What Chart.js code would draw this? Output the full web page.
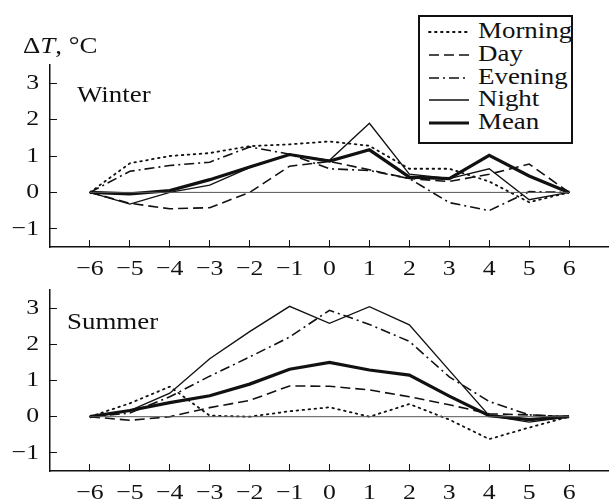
<!DOCTYPE html>
<html>
<head>
<meta charset="utf-8">
<script src="https://cdn.jsdelivr.net/npm/chart.js@4.4.0/dist/chart.umd.min.js"></script>
<style>
  body { margin: 0; background: #fff; width: 609px; height: 504px; position: relative; overflow: hidden;
         font-family: "Liberation Serif", "Times New Roman", serif; color: #111; }
  canvas { position: absolute; left: 0; }
  #winter-chart { top: 0; }
  #summer-chart { top: 280px; }
  /* the source figure's lettering is a bit wider than Times, so stretch it a little */
  .lbl { position: absolute; font-size: 23px; line-height: 23px; white-space: nowrap;
         transform: scaleX(1.17); transform-origin: 0 0; }
  #legend { position: absolute; left: 418px; top: 15px; width: 151px; height: 125px;
            border: 2px solid #111; background: #fff; }
  #legend .row { position: absolute; left: 8px; height: 22px; font-size: 23px; line-height: 22px; }
  #legend svg { position: absolute; left: 0; top: 7px; }
  #legend span { position: absolute; left: 50px; top: 0; white-space: nowrap;
                 transform: scaleX(1.17); transform-origin: 0 0; }
</style>
</head>
<body>
<canvas id="winter-chart" width="609" height="280"></canvas>
<canvas id="summer-chart" width="609" height="224"></canvas>
<div class="lbl" style="left:23px; top:34px;">&Delta;<i>T</i>, &deg;C</div>
<div class="lbl" style="left:77px; top:83px;">Winter</div>
<div class="lbl" style="left:67px; top:310px;">Summer</div>
<div id="legend"></div>

<script>
// --- Data ---
const hours = [-6, -5, -4, -3, -2, -1, 0, 1, 2, 3, 4, 5, 6];
const xTicks = [-6, -5, -4, -3, -2, -1, 0, 1, 2, 3, 4, 5, 6];
const yTicks = [-1, 0, 1, 2, 3];
const seriesNames = ["Morning", "Day", "Evening", "Night", "Mean"];

// Winter
const morningWinter = [0, 0.8, 1.0, 1.08, 1.27, 1.32, 1.4, 1.28, 0.65, 0.65, 0.3, -0.27, 0];
const dayWinter     = [0, -0.3, -0.45, -0.42, 0.0, 0.72, 0.85, 0.62, 0.38, 0.3, 0.5, 0.78, 0];
const eveningWinter = [0, 0.58, 0.74, 0.83, 1.25, 1.05, 0.65, 0.6, 0.38, -0.28, -0.5, 0.02, 0];
const nightWinter   = [0, -0.32, 0.0, 0.2, 0.68, 1.04, 0.88, 1.9, 0.5, 0.38, 0.65, -0.2, 0];
const meanWinter    = [0, -0.04, 0.05, 0.35, 0.7, 1.04, 0.86, 1.17, 0.42, 0.38, 1.02, 0.45, 0];

// Summer
const morningSummer = [0, 0.37, 0.83, 0.03, 0.0, 0.15, 0.26, 0.0, 0.35, -0.08, -0.62, -0.3, 0];
const daySummer     = [0, -0.1, 0.0, 0.25, 0.45, 0.85, 0.84, 0.74, 0.55, 0.33, 0.08, 0.05, 0];
const eveningSummer = [0, 0.1, 0.55, 1.12, 1.65, 2.2, 2.94, 2.55, 2.08, 1.1, 0.42, 0.05, 0];
const nightSummer   = [0, 0.17, 0.65, 1.6, 2.35, 3.05, 2.58, 3.04, 2.54, 1.28, 0.03, -0.15, 0];
const meanSummer    = [0, 0.17, 0.39, 0.58, 0.9, 1.31, 1.5, 1.29, 1.15, 0.57, 0.03, -0.08, 0];

// zero reference line
const zeroLineX = [-6, 6];
const zeroLineY = [0, 0];

// --- Styles ---
const INK = "#111";
const FONT = '"Liberation Serif", "Times New Roman", serif';
const TEXT_STRETCH = 1.17;
const styles = {
  Morning: { borderWidth: 1.8, borderDash: [1.6, 4.4], borderCapStyle: "round" },
  Day:     { borderWidth: 1.6, borderDash: [10, 5] },
  Evening: { borderWidth: 1.6, borderDash: [10, 4, 2, 4] },
  Night:   { borderWidth: 1.4, borderDash: [] },
  Mean:    { borderWidth: 3.2, borderDash: [] },
};

function minus(v) {
  return v < 0 ? "\u2212" + Math.abs(v) : String(v);
}

function toPoints(xs, ys) {
  return xs.map((x, i) => ({ x: x, y: ys[i] }));
}

function drawStretched(ctx, text, x, y) {
  ctx.save();
  ctx.translate(x, y);
  ctx.scale(TEXT_STRETCH, 1);
  ctx.fillText(text, 0, 0);
  ctx.restore();
}

// tick labels drawn from the scales' own ticks, slightly widened like the source
const stretchedTicks = {
  id: "stretchedTicks",
  afterDraw(chart) {
    const ctx = chart.ctx;
    const xs = chart.scales.x;
    const ys = chart.scales.y;
    ctx.save();
    ctx.fillStyle = INK;
    ctx.font = "22px " + FONT;
    ctx.textBaseline = "middle";
    ctx.textAlign = "center";
    xs.ticks.forEach((t) => drawStretched(ctx, minus(t.value), xs.getPixelForValue(t.value), xs.top + 22));
    ctx.textAlign = "right";
    ys.ticks.forEach((t) => drawStretched(ctx, minus(t.value), ys.right - 11, ys.getPixelForValue(t.value)));
    ctx.restore();
  },
};

function makePanel(canvasId, values, padTop) {
  const datasets = [{
    label: "zero",
    data: toPoints(zeroLineX, zeroLineY),
    borderColor: "#555",
    borderWidth: 1,
  }];
  seriesNames.forEach((name, i) => {
    datasets.push(Object.assign({
      label: name,
      data: toPoints(hours, values[i]),
      borderColor: INK,
      fill: false,
    }, styles[name]));
  });

  const ctx = document.getElementById(canvasId).getContext("2d");
  return new Chart(ctx, {
    type: "line",
    data: { datasets },
    plugins: [stretchedTicks],
    options: {
      responsive: false,
      animation: false,
      layout: { padding: { top: padTop, right: 0, bottom: 0, left: 0 } },
      elements: { point: { radius: 0 }, line: { tension: 0 } },
      plugins: { legend: { display: false }, tooltip: { enabled: false } },
      scales: {
        x: {
          type: "linear", min: -7, max: 7,
          afterBuildTicks: (s) => { s.ticks = xTicks.map((v) => ({ value: v })); },
          afterFit: (s) => { s.height = 33; },
          grid: { drawOnChartArea: false, drawTicks: true, tickLength: -7, color: INK, lineWidth: 1 },
          border: { display: true, color: INK, width: 1.5 },
          ticks: { display: false },
        },
        y: {
          min: -1.5, max: 3.5,
          afterBuildTicks: (s) => { s.ticks = yTicks.map((v) => ({ value: v })); },
          afterFit: (s) => { s.width = 50; },
          grid: { drawOnChartArea: false, drawTicks: true, tickLength: -7, color: INK, lineWidth: 1 },
          border: { display: true, color: INK, width: 1.5 },
          ticks: { display: false },
        },
      },
    },
  });
}

function buildLegend() {
  const legendEl = document.getElementById("legend");
  seriesNames.forEach((name, i) => {
    const st = styles[name];
    const row = document.createElement("div");
    row.className = "row";
    row.style.top = (3 + i * 22.75) + "px";
    const dash = st.borderDash.length ? st.borderDash.join(" ") : "none";
    row.innerHTML =
      '<svg width="42" height="10"><line x1="1" y1="5" x2="41" y2="5" stroke="' + INK +
      '" stroke-width="' + st.borderWidth + '" stroke-dasharray="' + dash + '"' +
      (st.borderCapStyle ? ' stroke-linecap="round"' : "") + '/></svg><span>' + name + "</span>";
    legendEl.appendChild(row);
  });
}

function draw() {
  makePanel("winter-chart", [morningWinter, dayWinter, eveningWinter, nightWinter, meanWinter], 65);
  makePanel("summer-chart", [morningSummer, daySummer, eveningSummer, nightSummer, meanSummer], 10);
  buildLegend();
}

// make sure the serif face is ready before the canvas text is drawn
Promise.all([
  document.fonts.load('22px "Liberation Serif"'),
  document.fonts.load('italic 22px "Liberation Serif"'),
]).then(draw, draw);
</script>
</body>
</html>
